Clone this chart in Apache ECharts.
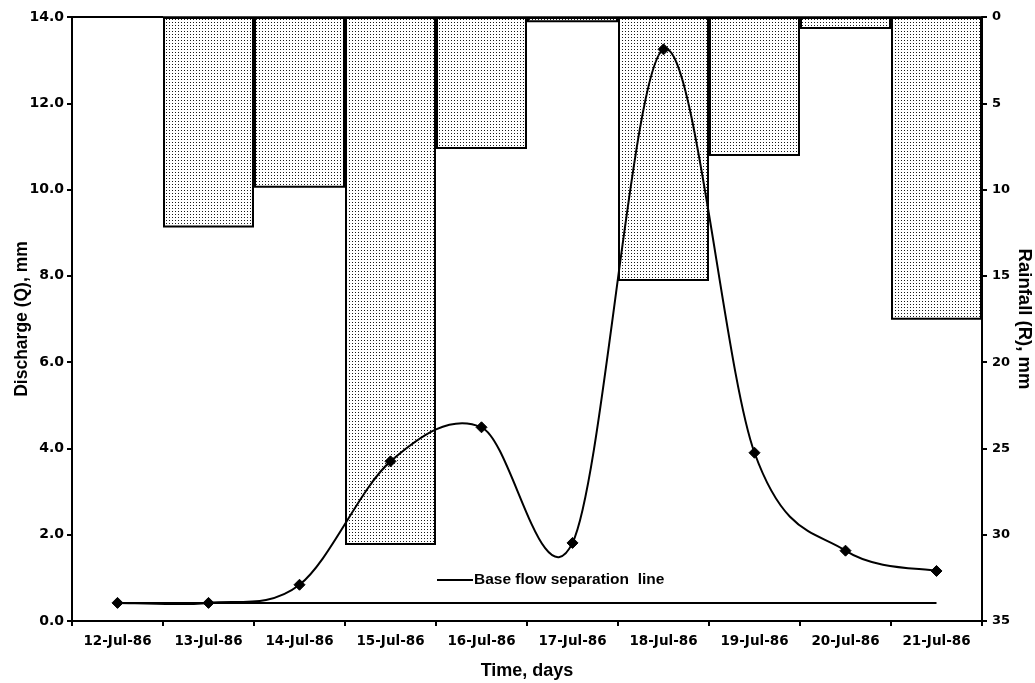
<!DOCTYPE html>
<html>
<head>
<meta charset="utf-8">
<title>Discharge and Rainfall, 12–21 July 1986</title>
<script src="https://cdn.jsdelivr.net/npm/echarts@6/dist/echarts.min.js"></script>
<style>
  html, body { margin: 0; padding: 0; background: #fff; }
  #chart { width: 1035px; height: 683px; }
</style>
</head>
<body>
<div id="chart"></div>
<script>
// Daily dates on the time axis
const days = ['12-Jul-86', '13-Jul-86', '14-Jul-86', '15-Jul-86', '16-Jul-86',
              '17-Jul-86', '18-Jul-86', '19-Jul-86', '20-Jul-86', '21-Jul-86'];

// Observed discharge Q (mm)
const discharge = [0.42, 0.42, 0.84, 3.70, 4.49, 1.81, 13.25, 3.90, 1.63, 1.16];

// Daily rainfall R (mm), hung from the top of the plot
const rainfall = [0, 12.2, 9.9, 30.6, 7.65, 0.3, 15.3, 8.05, 0.7, 17.55];

// Base flow separation line: start and end of the flat base flow (mm)
const baseFlow = [['12-Jul-86', 0.42], ['21-Jul-86', 0.42]];

const tickFont = 'DejaVu Sans';
const nameFont = '"Liberation Sans", Arial, sans-serif';

// Stippled fill for the rainfall bars
function stipple() {
  const c = document.createElement('canvas');
  c.width = 3; c.height = 3;
  const g = c.getContext('2d');
  g.fillStyle = '#ffffff';
  g.fillRect(0, 0, 3, 3);
  g.fillStyle = '#1a1a1a';
  g.fillRect(1, 1, 1, 1);
  return c;
}

// Smoothed hydrograph: each item draws the cubic Bezier segment to the next
// point, with Catmull-Rom style control points (tangent = (next - prev) / 6).
function renderHydrograph(params, api) {
  const i = params.dataIndex;
  const n = discharge.length;
  if (i >= n - 1) return null;
  const p = k => api.coord([Math.max(0, Math.min(n - 1, k)), discharge[Math.max(0, Math.min(n - 1, k))]]);
  const p0 = p(i - 1), p1 = p(i), p2 = p(i + 1), p3 = p(i + 2);
  return {
    type: 'bezierCurve',
    shape: {
      x1: p1[0], y1: p1[1],
      x2: p2[0], y2: p2[1],
      cpx1: p1[0] + (p2[0] - p0[0]) / 6, cpy1: p1[1] + (p2[1] - p0[1]) / 6,
      cpx2: p2[0] - (p3[0] - p1[0]) / 6, cpy2: p2[1] - (p3[1] - p1[1]) / 6
    },
    style: { stroke: '#000', fill: null, lineWidth: 2 }
  };
}

const chart = echarts.init(document.getElementById('chart'), null, { renderer: 'canvas' });

const axisLine = { show: true, lineStyle: { color: '#000', width: 2 } };
const axisTick = { show: true, inside: false, length: 5, lineStyle: { color: '#000', width: 2 } };

chart.setOption({
  backgroundColor: '#ffffff',
  animation: false,
  grid: {
    left: 72, right: 53, top: 17, bottom: 62,
    containLabel: false,
    outerBoundsMode: 'none',
    show: true, borderColor: '#000', borderWidth: 1.5, backgroundColor: 'transparent'
  },
  legend: {
    data: [{ name: 'Base flow separation  line', icon: 'rect' }],
    left: 432, top: 567,
    itemWidth: 36, itemHeight: 2,
    itemGap: 4,
    textStyle: { fontFamily: nameFont, fontWeight: 'bold', fontSize: 15.5, color: '#000', padding: [0, 0, 0, -4] }
  },
  xAxis: {
    type: 'category',
    data: days,
    boundaryGap: true,
    axisLine: axisLine,
    axisTick: axisTick,
    axisLabel: { fontFamily: tickFont, fontWeight: 'bold', fontSize: 13.5, color: '#000', margin: 13, interval: 0 },
    splitLine: { show: false },
    name: 'Time, days',
    nameLocation: 'middle',
    nameGap: 41,
    nameMoveOverlap: false,
    nameTextStyle: { fontFamily: nameFont, fontWeight: 'bold', fontSize: 18, color: '#000' }
  },
  yAxis: [
    {
      type: 'value',
      min: 0, max: 14, interval: 2,
      position: 'left',
      axisLine: axisLine,
      axisTick: axisTick,
      axisLabel: {
        fontFamily: tickFont, fontWeight: 'bold', fontSize: 14, color: '#000', margin: 8,
        formatter: v => v.toFixed(1)
      },
      splitLine: { show: false },
      name: 'Discharge (Q), mm',
      nameLocation: 'middle',
      nameGap: 41,
      nameMoveOverlap: false,
      nameTextStyle: { fontFamily: nameFont, fontWeight: 'bold', fontSize: 17.5, color: '#000' }
    },
    {
      type: 'value',
      min: 0, max: 35, interval: 5,
      inverse: true,
      position: 'right',
      axisLine: axisLine,
      axisTick: axisTick,
      axisLabel: { fontFamily: tickFont, fontWeight: 'bold', fontSize: 13, color: '#000', margin: 10 },
      splitLine: { show: false },
      name: 'Rainfall (R), mm',
      nameLocation: 'middle',
      nameGap: 33,
      nameRotate: -90,
      nameMoveOverlap: false,
      nameTextStyle: { fontFamily: nameFont, fontWeight: 'bold', fontSize: 18.5, color: '#000' }
    }
  ],
  series: [
    {
      name: 'Rainfall',
      type: 'bar',
      yAxisIndex: 1,
      data: rainfall,
      barWidth: '100%',
      barCategoryGap: 0,
      itemStyle: {
        color: { image: stipple(), repeat: 'repeat' },
        borderColor: '#000',
        borderWidth: 2
      },
      z: 1
    },
    {
      name: 'Base flow separation  line',
      type: 'line',
      data: baseFlow,
      symbol: 'none',
      lineStyle: { color: '#000', width: 2 },
      itemStyle: { color: '#000' },
      z: 3
    },
    {
      name: 'Discharge curve',
      type: 'custom',
      data: discharge.map((v, i) => [i, v]),
      encode: { x: 0, y: 1 },
      renderItem: renderHydrograph,
      z: 4
    },
    {
      name: 'Discharge',
      type: 'scatter',
      data: discharge,
      symbol: 'diamond',
      symbolSize: 11,
      itemStyle: { color: '#000', borderColor: '#000', opacity: 1 },
      z: 5
    }
  ]
});
</script>
</body>
</html>
